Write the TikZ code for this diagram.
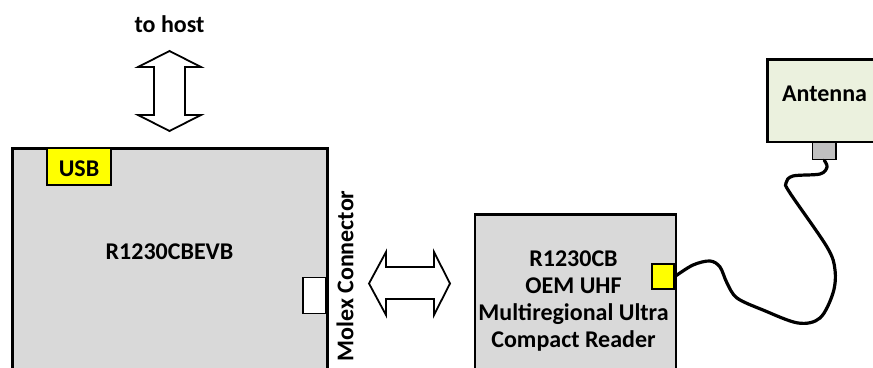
\documentclass[tikz,border=0pt]{standalone}
\usepackage{fontspec}
\setmainfont{Carlito}
\usepackage{tikz, xcolor}
\usetikzlibrary{positioning}
\newcommand{\pxunit}{1pt}
\definecolor{boardgray}{HTML}{D9D9D9}
\definecolor{antgreen}{HTML}{EBF1DE}
\definecolor{pluggray}{HTML}{C0C0C0}
\definecolor{portyellow}{HTML}{FFFF00}

\begin{document}
\begin{tikzpicture}[x=\pxunit,y=-\pxunit]
\path[use as bounding box, clip] (0,0) rectangle (873,367);
\tikzstyle{every node}=[font=\fontsize{24}{27}\selectfont\bfseries,
                        inner sep=0pt,
                        align=center
                        ]
\tikzstyle{board}=[draw, line width=2.6pt, fill=boardgray, anchor=north west]
\tikzstyle{port}=[draw, line width=1.8pt, fill=portyellow]
\tikzstyle{bigarrow}=[draw, line width=1.8pt, fill=white, line join=miter]
% boards
\node[board, minimum width=315, minimum height=260] (evb) at (11.3,147.3) {};
\node[board, minimum width=201, minimum height=200] (oem) at (473.5,213) {};
\node[board, fill=antgreen, minimum width=150, minimum height=82.5] (ant) at (766.3,58.3) {};
\node at (169.5,252) {R1230CBEVB};
\node at (573.5,301) {R1230CB\\OEM UHF\\Multiregional Ultra\\Compact Reader};
\node at (824.5,94) {Antenna};
% connectors on the boards
\node[port, minimum width=63.5, minimum height=37.5] (usb) at (79,166.5) {};
\node at (79,169) {USB};
\node[draw, line width=1.6pt, fill=white, minimum width=23, minimum height=36] (molex) at (314.5,295.5) {};
\node[port, minimum width=22, minimum height=24.7] (uhfport) at (662.7,276.7) {};
\node[draw, line width=1.4pt, fill=pluggray, minimum width=23.5, minimum height=17] (plug) at (824.2,151) {};
\node[rotate=90] (molexlabel) at (345,276) {Molex Connector};
\node (host) at (169.5,24) {to host};
% links
\draw[bigarrow] (169.5,51) -- (201,67) -- (185,67) -- (185,115) -- (201,115) -- (169.5,131)
  -- (138,115) -- (154,115) -- (154,67) -- (138,67) -- cycle;
\draw[bigarrow] (369,283.5) -- (386,252) -- (386,267) -- (434,267) -- (434,252) -- (450,283.5)
  -- (434,315) -- (434,299) -- (386,299) -- (386,315) -- cycle;
% antenna cable
\draw[line width=3.2pt, line cap=round] plot[smooth, tension=0.55] coordinates {
  (uhfport.east) (693,265) (710,261) (720,267) (727,283) (737,298) (763,310)
  (798,323) (820,318) (833,293) (835,270) (827,247) (790,193) (786,183)
  (793,176) (820,174) (827,167) (plug.south)};
\end{tikzpicture}
\end{document}
